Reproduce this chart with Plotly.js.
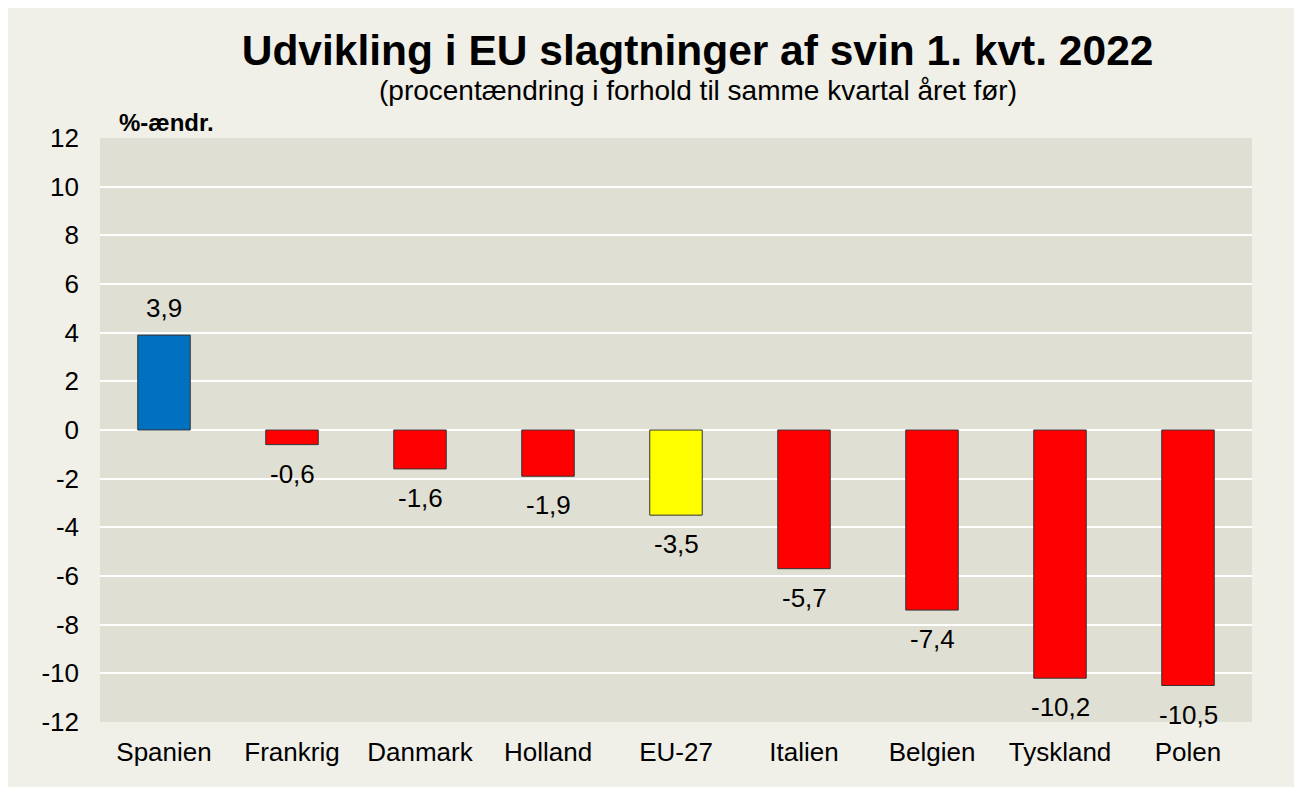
<!DOCTYPE html>
<html><head><meta charset="utf-8">
<script src="https://cdn.plot.ly/plotly-3.0.1.min.js"></script>
<style>
body{margin:0;background:#fff;}
#frame{position:absolute;left:8px;top:8px;width:1286px;height:779px;background:#f0efe8;}
#chart{position:absolute;left:0;top:0;width:1299px;height:788px;}
</style></head><body>
<div id="frame"></div>
<div id="chart"></div>
<script>
const categories = ["Spanien","Frankrig","Danmark","Holland","EU-27","Italien","Belgien","Tyskland","Polen"];
const values = [3.9,-0.6,-1.6,-1.9,-3.5,-5.7,-7.4,-10.2,-10.5];
const barColors = ["#0070C0","#FF0000","#FF0000","#FF0000","#FFFF00","#FF0000","#FF0000","#FF0000","#FF0000"];
const tickVals = [12,10,8,6,4,2,0,-2,-4,-6,-8,-10,-12];

const fmt = v => v.toFixed(1).replace('.', ',');
const font = "Liberation Sans, Arial, sans-serif";

const annotations = categories.map((c,i)=>({
  x:c, y:values[i], xref:'x', yref:'y', text:fmt(values[i]), showarrow:false,
  yshift: values[i] >= 0 ? 27 : -29, font:{family:font,size:26,color:'#000'}
}));
annotations.push({xref:'paper',yref:'paper',x:0.0148,y:1.0,xanchor:'left',yanchor:'bottom',
  text:'<b>%-ændr.</b>',showarrow:false,font:{family:font,size:24,color:'#000'}});
annotations.push({xref:'paper',yref:'paper',x:0.519,y:1.052,xanchor:'center',yanchor:'bottom',
  text:'(procentændring i forhold til samme kvartal året før)',showarrow:false,font:{family:font,size:28,color:'#000'}});

Plotly.newPlot('chart',[{
  type:'bar', x:categories, y:values,
  marker:{color:barColors, line:{color:'#333',width:1}},
  hoverinfo:'x+y'
}],{
  width:1299,height:788,
  paper_bgcolor:'rgba(0,0,0,0)', plot_bgcolor:'#e0dfd3',
  margin:{l:100,r:47,t:138,b:66},
  bargap:0.59,
  showlegend:false,
  title:{text:'<b>Udvikling i EU slagtninger af svin 1. kvt. 2022</b>', x:0.537, xanchor:'center', y:0.937, yanchor:'middle',
    font:{family:font,size:42.5,color:'#000'}},
  xaxis:{tickfont:{family:font,size:26,color:'#000'}, showgrid:false, zeroline:false, ticks:'', showline:false, ticklabelstandoff:12},
  yaxis:{range:[-12,12], tickvals:tickVals, ticktext:tickVals.map(String),
    tickfont:{family:font,size:26,color:'#000'}, gridcolor:'#ffffff', gridwidth:2,
    zeroline:true, zerolinecolor:'#ffffff', zerolinewidth:2, showline:false, ticks:'', ticklabelstandoff:20},
  annotations:annotations
},{displayModeBar:false, staticPlot:true});
</script>
</body></html>
